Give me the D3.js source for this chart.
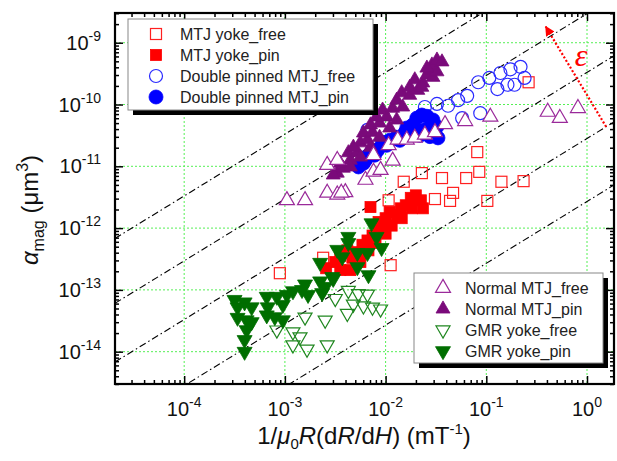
<!DOCTYPE html>
<html>
<head>
<meta charset="utf-8">
<script src="https://cdn.jsdelivr.net/npm/d3@7"></script>
<style>
  body { margin: 0; background: #fff; }
  text { font-family: Arial, "Liberation Sans", sans-serif; }
</style>
</head>
<body>
<svg id="chart" width="617" height="461"></svg>
<script>
// all points are [log10 x (mT^-1), log10 alpha_mag (um^3)]
var mtjYokeFree = [
  [-1.09,-10.77],[-1.64,-11.11],[-1.44,-11.19],[-1.20,-11.19],[-1.07,-11.09],
  [-1.82,-11.25],[-0.85,-11.25],[-0.63,-11.24],[-1.51,-11.53],[-1.36,-11.56],
  [-1.33,-11.43],[-0.99,-11.56],[-1.97,-11.55],[-1.95,-12.60],[-3.05,-12.73],
  [-2.62,-12.48],[-0.58,-9.64]
];
var mtjYokePin = [
  [-2.59,-12.65],[-2.50,-12.55],[-2.45,-12.45],[-2.38,-12.36],[-2.33,-12.48],
  [-2.27,-12.39],[-2.23,-12.27],[-2.18,-12.20],[-2.13,-12.12],[-2.07,-12.03],
  [-2.02,-11.95],[-2.07,-11.90],[-2.00,-11.84],[-1.96,-11.74],[-1.89,-11.79],
  [-1.85,-11.68],[-1.80,-11.63],[-1.75,-11.51],[-1.70,-11.47],[-1.65,-11.55],
  [-1.63,-11.68],[-1.74,-11.68],[-1.84,-11.84],[-1.94,-11.96],[-2.00,-12.09],
  [-2.10,-12.24],[-2.17,-12.36],[-2.25,-12.55],[-2.15,-11.66],[-2.35,-12.68],
  [-2.45,-12.68]
];
var doubleFree = [
  [-2.18,-10.41],[-1.61,-10.04],[-1.49,-9.99],[-1.38,-10.02],[-1.28,-9.93],
  [-1.19,-9.86],[-1.08,-9.64],[-0.97,-9.57],[-0.86,-9.49],[-0.76,-9.43],
  [-0.66,-9.39],[-0.62,-9.57],[-0.72,-9.68],[-0.79,-9.68],[-0.89,-9.75],
  [-1.24,-10.22],[-1.06,-10.14]
];
var doublePin = [
  [-2.27,-11.01],[-2.22,-10.95],[-2.17,-10.82],[-2.13,-10.74],[-2.08,-10.74],
  [-2.03,-10.61],[-1.96,-10.58],[-1.89,-10.53],[-1.81,-10.46],[-1.79,-10.38],
  [-1.73,-10.33],[-1.69,-10.22],[-1.64,-10.17],[-1.59,-10.19],[-1.53,-10.25],
  [-1.49,-10.36],[-1.53,-10.49],[-1.61,-10.41],[-1.69,-10.41],[-1.76,-10.51],
  [-1.86,-10.58],[-1.99,-10.66],[-2.11,-10.82],[-2.20,-10.90],[-1.48,-10.54],
  [-1.56,-10.52],[-1.66,-10.50],[-1.72,-10.45]
];
var normalFree = [
  [-2.98,-11.55],[-2.80,-11.55],[-2.58,-10.98],[-2.48,-10.90],[-2.58,-11.43],
  [-2.48,-11.46],[-2.40,-11.42],[-2.44,-11.43],[-2.20,-11.22],[-2.12,-11.09],
  [-2.05,-11.06],[-1.93,-10.91],[-2.12,-10.82],[-1.97,-10.66],[-1.88,-10.57],
  [-1.79,-10.57],[-1.71,-10.54],[-1.61,-10.49],[-1.51,-10.45],[-1.41,-10.32],
  [-1.21,-10.27],[-0.96,-10.20],[-0.39,-10.12],[-0.27,-10.22],[-0.09,-10.06]
];
var normalPin = [
  [-2.48,-11.11],[-2.42,-11.03],[-2.45,-10.95],[-2.35,-10.90],[-2.37,-10.78],
  [-2.28,-10.77],[-2.25,-10.62],[-2.32,-10.69],[-2.18,-10.57],[-2.22,-10.46],
  [-2.13,-10.45],[-2.15,-10.33],[-2.06,-10.30],[-2.09,-10.20],[-1.99,-10.20],
  [-2.03,-10.09],[-1.93,-10.06],[-1.89,-9.93],[-1.83,-10.04],[-1.84,-9.81],
  [-1.76,-9.85],[-1.76,-9.72],[-1.68,-9.77],[-1.71,-9.60],[-1.63,-9.65],
  [-1.59,-9.52],[-1.53,-9.56],[-1.56,-9.44],[-1.49,-9.47],[-1.54,-9.36],
  [-1.49,-9.28],[-1.44,-9.31],[-1.59,-9.41],[-1.64,-9.72],[-1.96,-10.38],
  [-1.89,-10.25],[-2.06,-10.53],[-2.15,-10.69],[-2.25,-10.85],[-2.35,-11.01],
  [-2.52,-11.14]
];
var gmrFree = [
  [-3.08,-13.65],[-2.92,-13.68],[-2.85,-13.76],[-2.92,-13.89],[-2.78,-13.96],
  [-2.80,-13.44],[-2.60,-13.49],[-2.38,-13.38],[-2.58,-13.89],[-2.50,-13.14],
  [-2.37,-13.01],[-2.27,-13.06],[-2.18,-13.07],[-2.32,-13.23],[-2.22,-13.26],
  [-2.13,-13.28],[-2.05,-13.31]
];
var gmrPin = [
  [-3.50,-13.16],[-3.40,-13.20],[-3.33,-13.28],[-3.47,-13.28],[-3.47,-13.45],
  [-3.38,-13.49],[-3.33,-13.52],[-3.38,-13.65],[-3.40,-13.81],[-3.40,-14.00],
  [-3.18,-13.11],[-3.08,-13.11],[-3.17,-13.28],[-3.18,-13.41],[-3.10,-13.44],
  [-3.02,-13.49],[-3.02,-13.24],[-2.98,-13.08],[-2.92,-13.02],[-2.83,-13.00],
  [-2.80,-12.91],[-2.77,-13.08],[-2.65,-12.86],[-2.60,-12.95],[-2.52,-12.82],
  [-2.63,-13.05],[-2.65,-12.56],[-2.53,-12.79],[-2.48,-12.35],[-2.37,-12.24],
  [-2.28,-12.40],[-2.28,-12.63],[-2.17,-12.76],[-2.18,-12.40],[-2.09,-12.14],
  [-2.14,-11.92],[-2.04,-12.32],[-2.43,-12.47],[-2.37,-12.14]
];

var xTickExps = [-4, -3, -2, -1, 0];
var yTickExps = [-9, -10, -11, -12, -13, -14];
// constant-epsilon guide lines: log10(alpha / x)
var guideOffsets = [-7.48, -8.53, -9.48, -10.55, -11.57];
// epsilon arrow, log10 coordinates
var arrowFrom = [0.19, -10.36];
var arrowTo = [-0.41, -8.74];
var epsLabelAt = [-0.06, -9.38];

var legendTop = ['MTJ yoke_free', 'MTJ yoke_pin', 'Double pinned MTJ_free', 'Double pinned MTJ_pin'];
var legendBottom = ['Normal MTJ_free', 'Normal MTJ_pin', 'GMR yoke_free', 'GMR yoke_pin'];

var series = [
  {name: 'MTJ yoke_free', data: mtjYokeFree, shape: 'square', filled: false, color: '#ff2020', size: 11},
  {name: 'MTJ yoke_pin', data: mtjYokePin, shape: 'square', filled: true, color: '#ff0000', size: 11},
  {name: 'GMR yoke_free', data: gmrFree, shape: 'down', filled: false, color: '#1f861f', size: 14},
  {name: 'GMR yoke_pin', data: gmrPin, shape: 'down', filled: true, color: '#006e00', size: 15},
  {name: 'Double pinned MTJ_free', data: doubleFree, shape: 'circle', filled: false, color: '#2a2aff', size: 13},
  {name: 'Double pinned MTJ_pin', data: doublePin, shape: 'circle', filled: true, color: '#0000ff', size: 14},
  {name: 'Normal MTJ_pin', data: normalPin, shape: 'up', filled: true, color: '#7a0a7a', size: 14},
  {name: 'Normal MTJ_free', data: normalFree, shape: 'up', filled: false, color: '#9a2a9a', size: 15, white: true}
];

var pLeft = 115, pRight = 614, pTop = 13, pBottom = 384;

var svg = d3.select('#chart');

var x = d3.scaleLog()
  .domain([Math.pow(10, -4.687), Math.pow(10, 0.268)])
  .range([pLeft, pRight]);
var y = d3.scaleLog()
  .domain([Math.pow(10, -14.523), Math.pow(10, -8.519)])
  .range([pBottom, pTop]);

var px = function(d){ return x(Math.pow(10, d[0])); };
var py = function(d){ return y(Math.pow(10, d[1])); };

var defs = svg.append('defs');
defs.append('clipPath').attr('id', 'plot')
  .append('rect').attr('x', pLeft).attr('y', pTop)
  .attr('width', pRight - pLeft).attr('height', pBottom - pTop);

defs.append('marker')
  .attr('id', 'head').attr('viewBox', '0 0 10 10')
  .attr('refX', 9).attr('refY', 5)
  .attr('markerWidth', 4.5).attr('markerHeight', 4.5)
  .attr('markerUnits', 'strokeWidth')
  .attr('orient', 'auto')
  .append('path').attr('d', 'M0,0L10,5L0,10Z').attr('fill', '#ff0000');

// grid
var grid = svg.append('g');
grid.selectAll('line.gx').data(xTickExps).enter().append('line').attr('class', 'gx')
  .attr('x1', function(e){ return x(Math.pow(10, e)); })
  .attr('x2', function(e){ return x(Math.pow(10, e)); })
  .attr('y1', pTop).attr('y2', pBottom);
grid.selectAll('line.gy').data(yTickExps).enter().append('line').attr('class', 'gy')
  .attr('y1', function(e){ return y(Math.pow(10, e)); })
  .attr('y2', function(e){ return y(Math.pow(10, e)); })
  .attr('x1', pLeft).attr('x2', pRight);
grid.selectAll('line')
  .attr('stroke', '#55f055')
  .attr('stroke-width', 1)
  .attr('stroke-dasharray', '2,2');

// guide lines of constant epsilon
var xd = x.domain();
var plot = svg.append('g').attr('clip-path', 'url(#plot)');
plot.selectAll('line.guide').data(guideOffsets).enter().append('line').attr('class', 'guide')
  .attr('x1', x(xd[0])).attr('x2', x(xd[1]))
  .attr('y1', function(k){ return y(xd[0] * Math.pow(10, k)); })
  .attr('y2', function(k){ return y(xd[1] * Math.pow(10, k)); })
  .attr('stroke', '#000')
  .attr('stroke-width', 1.1)
  .attr('stroke-dasharray', '7,3,1.5,3');

var drawMarker = function(g, s, cx, cy){
  var fill = s.filled ? s.color : (s.white ? '#fff' : 'none');
  var el;
  if (s.shape === 'square') {
    el = g.append('rect')
      .attr('x', cx - s.size / 2).attr('y', cy - s.size / 2)
      .attr('width', s.size).attr('height', s.size);
  } else if (s.shape === 'circle') {
    el = g.append('circle').attr('cx', cx).attr('cy', cy).attr('r', s.size / 2);
  } else {
    var h = s.size * 0.866;
    var dir = s.shape === 'up' ? 1 : -1;
    var pts = [
      [cx, cy - dir * h * 2 / 3],
      [cx + s.size / 2, cy + dir * h / 3],
      [cx - s.size / 2, cy + dir * h / 3]
    ];
    el = g.append('path').attr('d', 'M' + pts.join('L') + 'Z');
  }
  el.attr('fill', fill)
    .attr('stroke', s.color)
    .attr('stroke-width', s.filled ? 0.8 : 1.2);
};

series.forEach(function(s){
  var g = plot.append('g');
  s.data.forEach(function(d){ drawMarker(g, s, px(d), py(d)); });
});

// epsilon arrow
svg.append('line')
  .attr('x1', px(arrowFrom)).attr('y1', py(arrowFrom))
  .attr('x2', px(arrowTo)).attr('y2', py(arrowTo))
  .attr('stroke', '#ff0000')
  .attr('stroke-width', 2.2)
  .attr('stroke-dasharray', '2,2')
  .attr('marker-end', 'url(#head)');
svg.append('text')
  .attr('x', px(epsLabelAt)).attr('y', py(epsLabelAt))
  .attr('text-anchor', 'middle')
  .style('font-family', '"Liberation Serif", "DejaVu Serif", serif')
  .style('font-style', 'italic')
  .style('font-size', '32px')
  .attr('fill', '#ff0000')
  .text('\u03b5');

// ticks, inside on all four sides
var minor = function(lo, hi){
  var v = [];
  for (var e = Math.floor(lo) - 1; e <= Math.ceil(hi); e++) {
    for (var m = 2; m <= 9; m++) {
      var l = e + Math.log10(m);
      if (l > lo && l < hi) v.push(Math.pow(10, l));
    }
  }
  return v;
};
var xMajor = xTickExps.map(function(e){ return Math.pow(10, e); });
var yMajor = yTickExps.map(function(e){ return Math.pow(10, e); });
var xMinor = minor(-4.687, 0.268);
var yMinor = minor(-14.523, -8.519);

var axes = svg.append('g');
var addAxis = function(axis, vals, size, tr){
  axes.append('g').attr('transform', tr)
    .call(axis.tickValues(vals).tickSize(size).tickFormat(''));
};
addAxis(d3.axisBottom(x), xMajor, -8, 'translate(0,' + pBottom + ')');
addAxis(d3.axisBottom(x), xMinor, -4, 'translate(0,' + pBottom + ')');
addAxis(d3.axisTop(x), xMajor, -8, 'translate(0,' + pTop + ')');
addAxis(d3.axisTop(x), xMinor, -4, 'translate(0,' + pTop + ')');
addAxis(d3.axisLeft(y), yMajor, -8, 'translate(' + pLeft + ',0)');
addAxis(d3.axisLeft(y), yMinor, -4, 'translate(' + pLeft + ',0)');
addAxis(d3.axisRight(y), yMajor, -8, 'translate(' + pRight + ',0)');
addAxis(d3.axisRight(y), yMinor, -4, 'translate(' + pRight + ',0)');
axes.selectAll('.domain').remove();
axes.selectAll('.tick line').attr('stroke', '#000').attr('stroke-width', 1.5);

svg.append('rect')
  .attr('x', pLeft).attr('y', pTop)
  .attr('width', pRight - pLeft).attr('height', pBottom - pTop)
  .attr('fill', 'none').attr('stroke', '#000').attr('stroke-width', 2.2);

// tick labels
var xl = svg.append('g').selectAll('text').data(xTickExps).enter().append('text')
  .attr('x', function(e){ return x(Math.pow(10, e)); })
  .attr('y', 416)
  .attr('text-anchor', 'middle')
  .style('font-size', '20px')
  .attr('fill', '#111');
xl.append('tspan').text('10');
xl.append('tspan').attr('dy', -9).style('font-size', '14px').text(function(e){ return e === 0 ? '0' : '-' + (-e); });

var yl = svg.append('g').selectAll('text').data(yTickExps).enter().append('text')
  .attr('x', 101)
  .attr('y', function(e){ return y(Math.pow(10, e)) + 7; })
  .attr('text-anchor', 'end')
  .style('font-size', '20px')
  .attr('fill', '#111');
yl.append('tspan').text('10');
yl.append('tspan').attr('dy', -9).style('font-size', '14px').text(function(e){ return '-' + (-e); });

// axis titles
var xt = svg.append('text')
  .attr('x', 364).attr('y', 444)
  .attr('text-anchor', 'middle')
  .style('font-size', '24px')
  .attr('fill', '#111');
xt.append('tspan').text('1/');
xt.append('tspan').style('font-style', 'italic').text('\u03bc');
xt.append('tspan').attr('dy', 5).style('font-size', '15px').text('0');
xt.append('tspan').attr('dy', -5).style('font-style', 'italic').text('R');
xt.append('tspan').text('(d');
xt.append('tspan').style('font-style', 'italic').text('R');
xt.append('tspan').text('/d');
xt.append('tspan').style('font-style', 'italic').text('H');
xt.append('tspan').text(') (mT');
xt.append('tspan').attr('dy', -10).style('font-size', '15px').text('-1');
xt.append('tspan').attr('dy', 10).text(')');

var yt = svg.append('text')
  .attr('transform', 'translate(38,210) rotate(-90)')
  .attr('text-anchor', 'middle')
  .style('font-size', '24px')
  .attr('fill', '#111');
yt.append('tspan').style('font-style', 'italic').text('\u03b1');
yt.append('tspan').attr('dy', 6).style('font-size', '16px').text('mag');
yt.append('tspan').attr('dy', -6).text(' (\u03bcm');
yt.append('tspan').attr('dy', -10).style('font-size', '16px').text('3');
yt.append('tspan').attr('dy', 10).text(')');

// legends
var drawLegend = function(names, bx, by, bw, bh, mx, tx, rowY){
  var g = svg.append('g');
  g.append('rect').attr('x', bx + 5).attr('y', by + 5).attr('width', bw).attr('height', bh).attr('fill', '#000');
  g.append('rect').attr('x', bx).attr('y', by).attr('width', bw).attr('height', bh)
    .attr('fill', '#fff').attr('stroke', '#888').attr('stroke-width', 1);
  names.forEach(function(n, i){
    var s = series.filter(function(d){ return d.name === n; })[0];
    var cy = rowY + i * 21;
    drawMarker(g, s, mx, cy);
    g.append('text').attr('x', tx).attr('y', cy + 6)
      .style('font-size', '16px').attr('fill', '#222').text(n);
  });
};
drawLegend(legendTop, 128, 19, 245, 91, 156, 180, 34);
drawLegend(legendBottom, 414, 273, 189, 90, 443, 465, 288);
</script>
</body>
</html>
